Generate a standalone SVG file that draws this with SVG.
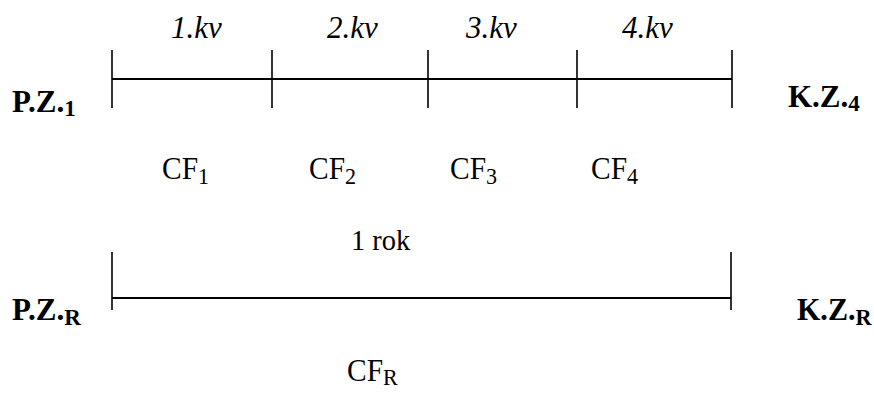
<svg xmlns="http://www.w3.org/2000/svg" width="874" height="396" viewBox="0 0 874 396">
<style>
.ln{stroke:#000;stroke-width:2;fill:none}
.tk{stroke:#000;stroke-width:1.6;fill:none}
.it{font-family:"Liberation Serif",serif;font-style:italic;font-size:31px;fill:#000}
.rg{font-family:"Liberation Serif",serif;font-size:32px;fill:#000}
.rk{font-family:"Liberation Serif",serif;font-size:30px;fill:#000}
.bd{font-family:"Liberation Serif",serif;font-weight:bold;font-size:31px;fill:#000}
.sb{font-size:23px}
.sr{font-size:24px}
</style>
<rect width="874" height="396" fill="#fff"/>
<g id="connectors">
<line class="ln" x1="112" y1="79" x2="732" y2="79"/>
<line class="tk" x1="112" y1="50" x2="112" y2="108"/>
<line class="tk" x1="272" y1="50" x2="272" y2="108"/>
<line class="tk" x1="428" y1="50" x2="428" y2="108"/>
<line class="tk" x1="577" y1="50" x2="577" y2="108"/>
<line class="tk" x1="732" y1="50" x2="732" y2="108"/>
<line class="ln" x1="112" y1="298" x2="731" y2="298"/>
<line class="tk" x1="112" y1="252" x2="112" y2="310"/>
<line class="tk" x1="731" y1="252" x2="731" y2="310"/>
</g>
<g id="q1"><text class="it" x="171" y="38">1.kv</text></g>
<g id="q2"><text class="it" x="327" y="38">2.kv</text></g>
<g id="q3"><text class="it" x="466" y="38">3.kv</text></g>
<g id="q4"><text class="it" x="622" y="38">4.kv</text></g>
<g id="pz1"><text class="bd" transform="matrix(1 0 0 1 12 112)">P.Z.<tspan class="sb" dy="4">1</tspan></text></g>
<g id="kz4"><text class="bd" transform="matrix(1 0 0 1 788 107)">K.Z.<tspan class="sb" dy="4">4</tspan></text></g>
<g id="cf1"><text class="rg" transform="matrix(0.92 0 0 1 162 179)">CF<tspan class="sr" dy="5">1</tspan></text></g>
<g id="cf2"><text class="rg" transform="matrix(0.92 0 0 1 309 179)">CF<tspan class="sr" dy="5">2</tspan></text></g>
<g id="cf3"><text class="rg" transform="matrix(0.92 0 0 1 450 179)">CF<tspan class="sr" dy="5">3</tspan></text></g>
<g id="cf4"><text class="rg" transform="matrix(0.92 0 0 1 591 179)">CF<tspan class="sr" dy="5">4</tspan></text></g>
<g id="rok"><text class="rk" transform="matrix(0.95 0 0 1 351 250)">1 rok</text></g>
<g id="pzr"><text class="bd" transform="matrix(1 0 0 1 12 320)">P.Z.<tspan class="sb" dy="5">R</tspan></text></g>
<g id="kzr"><text class="bd" transform="matrix(0.97 0 0 1 797 320)">K.Z.<tspan class="sb" dy="5">R</tspan></text></g>
<g id="cfr"><text class="rg" transform="matrix(0.92 0 0 1 347 381)">CF<tspan class="sr" dy="4">R</tspan></text></g>
</svg>
